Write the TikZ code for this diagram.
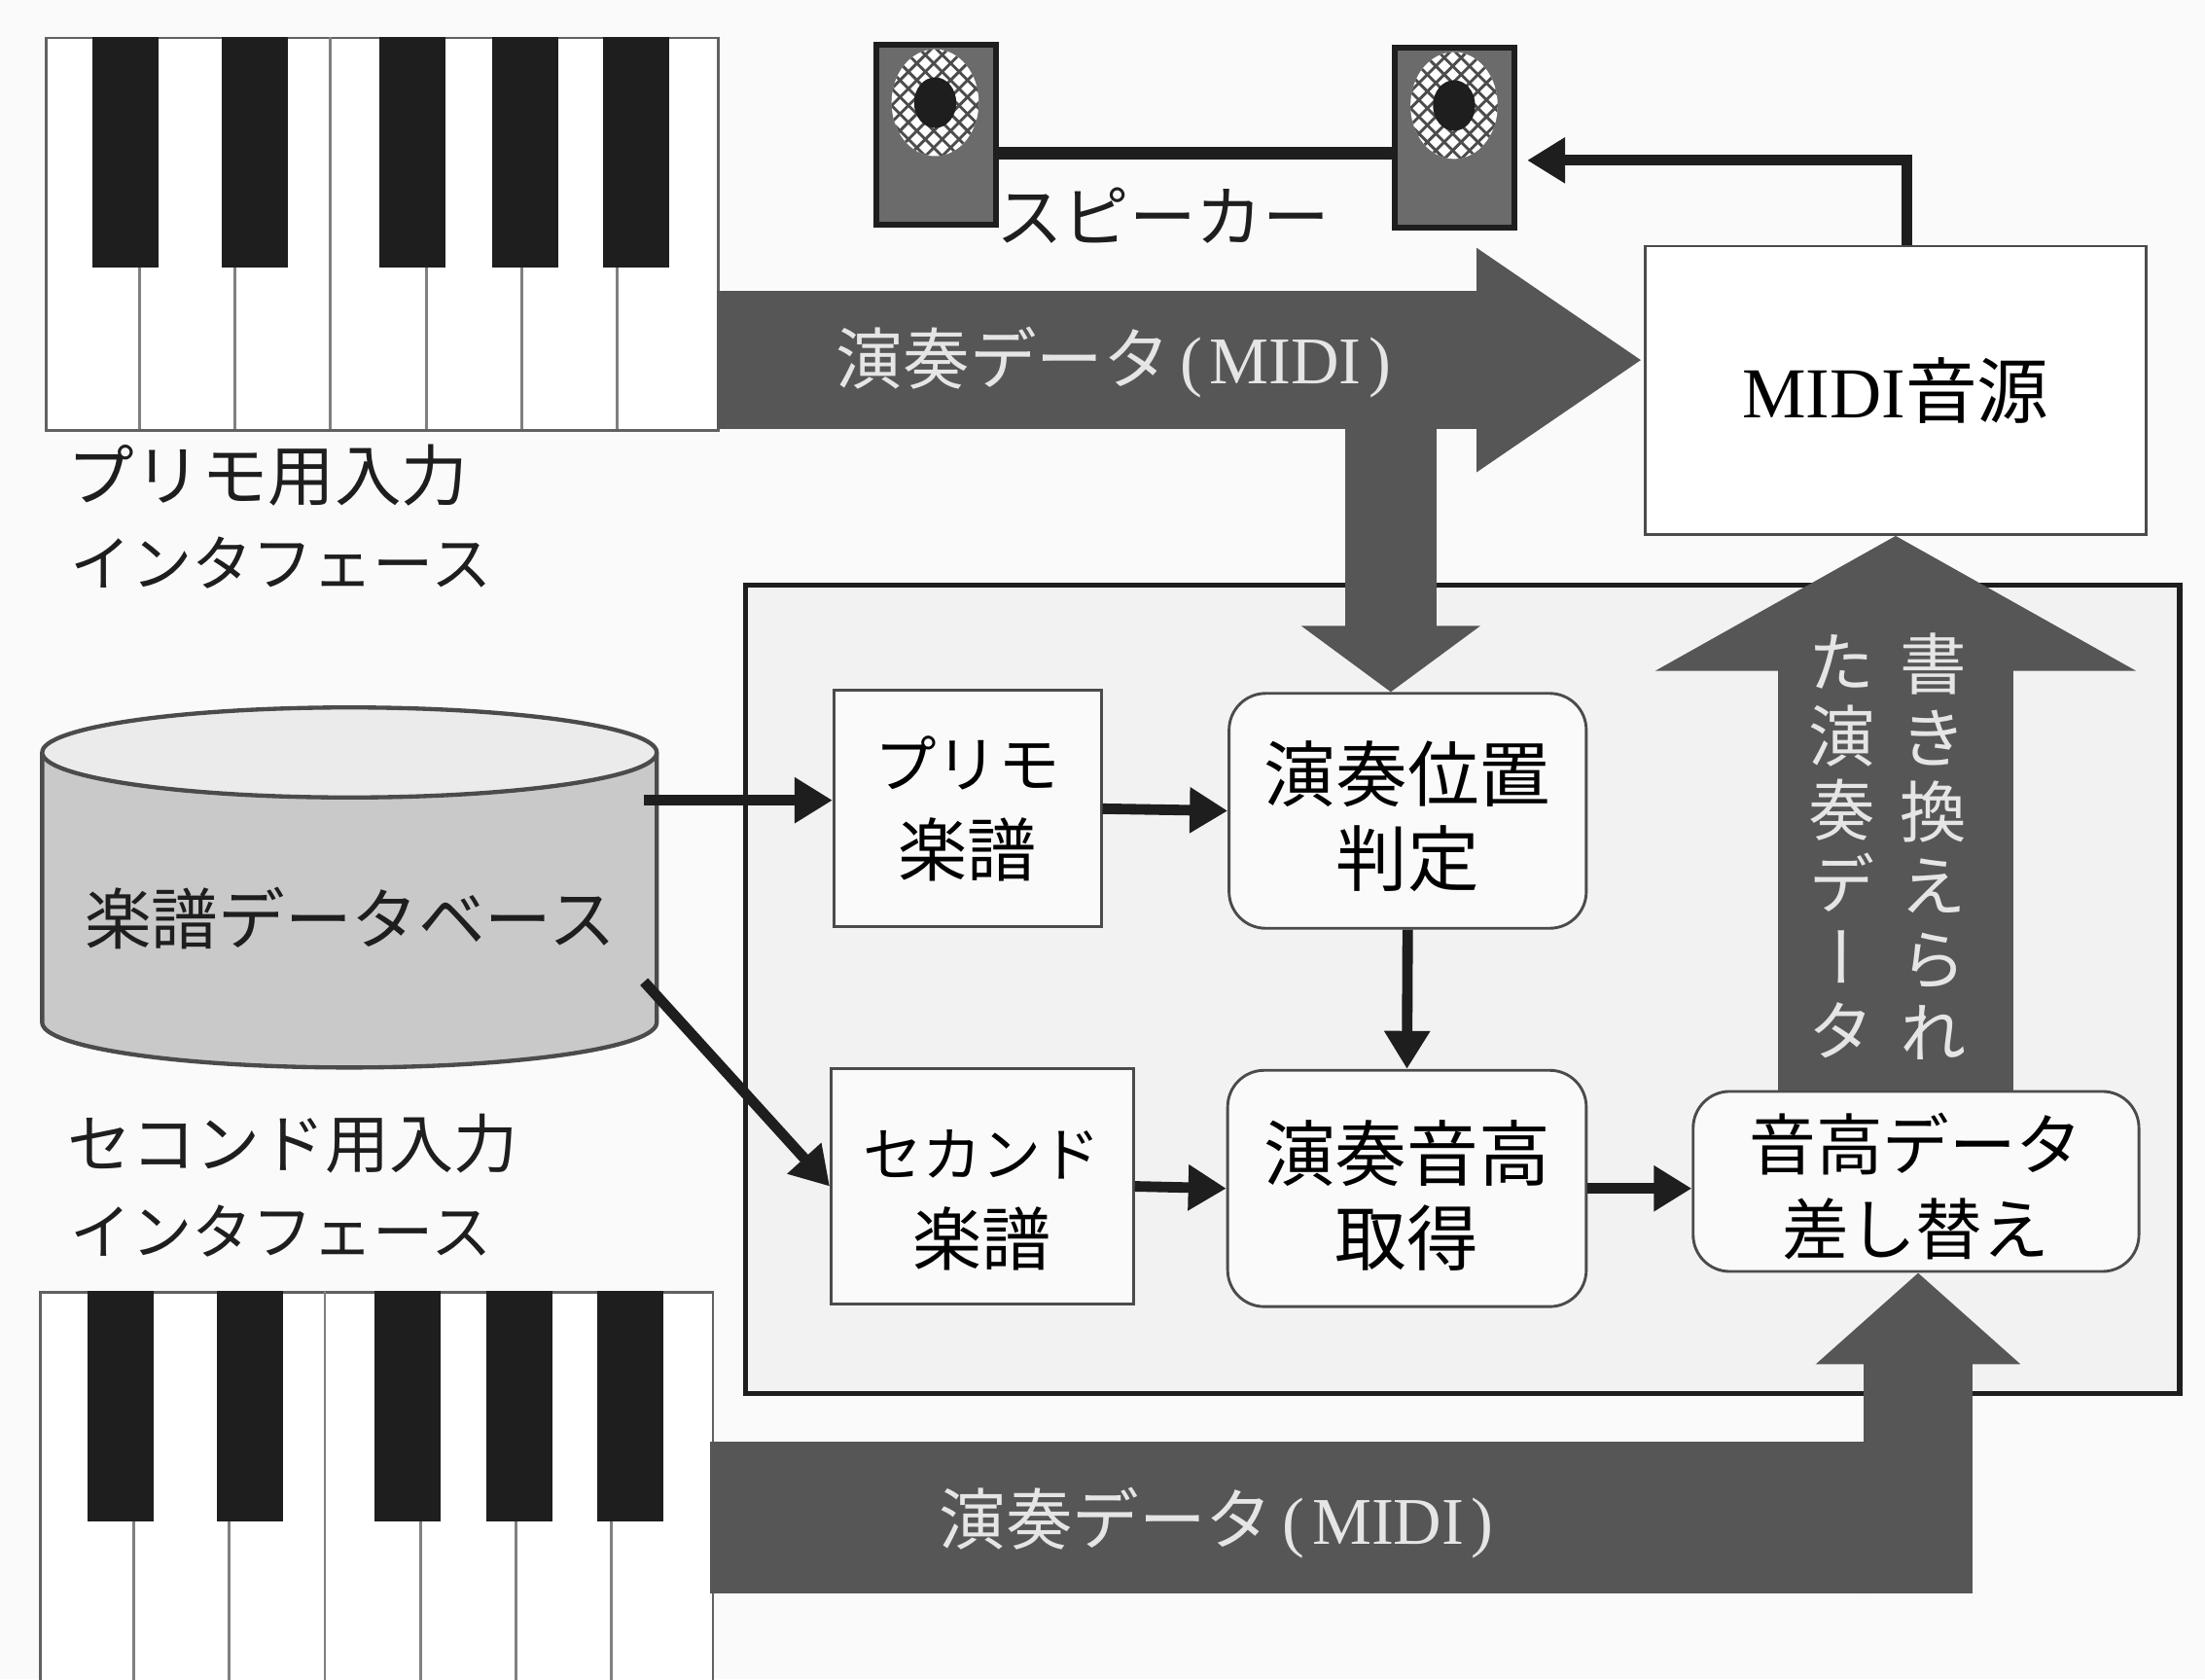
\documentclass[tikz,border=0pt]{standalone}
\usepackage{fontspec}
\setmainfont{Noto Sans CJK JP}
\newfontfamily\lat{Liberation Serif}
\newfontfamily\cjkv[RawFeature=+vert]{Noto Sans CJK JP}
\usetikzlibrary{arrows.meta,calc}
\def\uu{0.02cm}
\newcommand{\fsz}[1]{\fontsize{#1}{\the\dimexpr#1pt*118/100\relax}\selectfont}
\definecolor{bigarrow}{HTML}{565656}
\definecolor{ink}{HTML}{1E1E1E}
\colorlet{panelbg}{black!5}
\tikzset{
  sqbox/.style={draw=ink!80,line width=2*\uu,fill=white!60!panelbg,inner sep=0pt,align=center},
  rdbox/.style={sqbox,rounded corners=26*\uu},
  thin arrow/.style={draw=ink,line width=7.5*\uu,-{Triangle[length=27*\uu,width=31*\uu]}},
  fat/.style={draw=bigarrow,line width=#1*\uu},
  lighttext/.style={text=white!90!black,inner sep=0pt},
  darktext/.style={text=ink,inner sep=0pt,align=center},
  pics/keyboard/.style={code={
    \node[draw=ink!70,line width=2*\uu,fill=white,minimum width=478*\uu,minimum height=279*\uu,inner sep=0pt,anchor=north west] (-frame) at (0,0) {};
    \foreach \lx in {67,135,203,271,339,407}{\draw[gray,line width=2*\uu] (\lx,164) -- (\lx,279);}
    \draw[gray,line width=2*\uu] (203,0) -- (203,164);
    \foreach \bx in {34,126,238,318,397}{\fill[ink] (\bx,0) rectangle ++(47,164);}
  }},
  pics/speaker/.style={code={
    \node[draw=ink,line width=4*\uu,fill=black!58,minimum width=85*\uu,minimum height=128*\uu,inner sep=0pt,anchor=north west] (-body) at (0,0) {};
    \begin{scope}
      \clip (44,43) ellipse [x radius=31,y radius=38];
      \fill[white] (0,0) rectangle (89,90);
      \foreach \d in {-80,-68,...,120}{
        \draw[black!70,line width=2*\uu] (\d,0) -- ++(90,90);
        \draw[black!70,line width=2*\uu] (\d,90) -- ++(90,-90);
      }
    \end{scope}
    \fill[ink] (44,43) ellipse [x radius=15,y radius=18];
  }}
}
\begin{document}
\begin{tikzpicture}[x=\uu,y=-\uu]
\useasboundingbox (0,0) rectangle (1568,1194);
\fill[black!2] (0,0) rectangle (1568,1194);
% panel
\draw[draw=ink,line width=3.5*\uu,fill=panelbg] (530,416) rectangle (1550,991);
% keyboards
\pic (kbA) at (32,26) {keyboard};
\pic (kbB) at (28,918) {keyboard};
% speakers
\pic (spL) at (621,30) {speaker};
\pic (spR) at (990,32) {speaker};
% database
\draw[draw=ink!80,line width=3*\uu,fill=black!21] (30,535) -- (30,727) arc [start angle=180,end angle=0,x radius=218.5,y radius=32] -- (467,535);
\draw[draw=ink!80,line width=3*\uu,fill=black!8] (248.5,535) ellipse [x radius=218.5,y radius=32];
\node[darktext] (db) at (249,653) {\fsz{27}楽譜データベース};
\coordinate (dbA) at (458,569);
\coordinate (dbB) at (458,698);
% boxes
\node[sqbox,fill=white,minimum width=356*\uu,minimum height=205*\uu] (midi) at (1348,277.5) {\fsz{29}{\lat MIDI}音源};
\node[sqbox,minimum width=190*\uu,minimum height=168*\uu] (primo) at (688,575) {\fsz{25}プリモ\\[10pt]\fsz{28}楽譜};
\node[sqbox,minimum width=215*\uu,minimum height=167*\uu] (second) at (698.5,843.5) {\rule{0pt}{30pt}\fsz{24}セカンド\\[10pt]\fsz{28}楽譜};
\node[rdbox,font=\fsz{29},minimum width=254*\uu,minimum height=167*\uu] (pos) at (1001,576.5) {\rule{0pt}{29pt}演奏位置\\[0pt]判定};
\node[rdbox,font=\fsz{29},minimum width=255*\uu,minimum height=168*\uu] (pitch) at (1000.5,845) {\rule{0pt}{30pt}演奏音高\\[0pt]取得};
\node[rdbox,font=\fsz{27},minimum width=317*\uu,minimum height=128*\uu] (swap) at (1362.5,840) {\rule{0pt}{27pt}音高データ\\[2pt]差し替え};
% big arrows
\coordinate (a1s) at (510,256);
\coordinate (a1e) at (1168,256);
\coordinate (a2s) at (989,290);
\coordinate (a2e) at (989,492);
\coordinate (a3s) at (505,1079);
\coordinate (a3m) at (1403,1079);
\coordinate (a4s) at (1364,1133);
\draw[fat=98,-{Triangle[length=118*\uu,width=151*\uu]}] (a1s) -- (a1e);
\draw[fat=65,-{Triangle[length=47*\uu,width=125*\uu]}] (a2s) -- (a2e);
\draw[fat=168,-{Triangle[length=96*\uu,width=338*\uu]}] (midi.south |- swap.north) -- (midi.south);
\draw[fat=108] (a3s) -- (a3m);
\draw[fat=78,-{Triangle[length=65*\uu,width=142*\uu]}] (a4s) -- (swap.south -| a4s);
% arrow labels
\node[lighttext] (t1) at (792,258) {\fsz{27}演奏データ\hspace{4pt}{\lat (\hspace{3pt}MIDI\hspace{3pt})}};
\node[lighttext] (t2) at (865,1083) {\fsz{27}演奏データ\hspace{4pt}{\lat (\hspace{3pt}MIDI\hspace{3pt})}};
\node[lighttext,align=center,font=\fsz{27}\cjkv] (t3) at (1375,602) {書\\[-2pt]き\\[-2pt]換\\[-2pt]え\\[-2pt]ら\\[-2pt]れ};
\node[lighttext,align=center,font=\fsz{27}\cjkv] (t4) at (1310,602) {た\\[-2pt]演\\[-2pt]奏\\[-2pt]デ\\[-2pt]ー\\[-2pt]タ};
% thin connectors
\draw[thin arrow] (dbA) -- (primo.west |- dbA);
\draw[thin arrow] (primo.east) -- (pos.west);
\draw[thin arrow] (dbB) -- (second.west);
\draw[thin arrow] (pos.south) -- (pitch.north);
\draw[thin arrow] (second.east) -- (pitch.west);
\draw[thin arrow] (pitch.east) -- (pitch.east -| swap.west);
\draw[draw=ink,line width=9*\uu] ($(spL-body.east)+(0,13)$) -- ($(spR-body.west)+(0,11)$);
\draw[thin arrow] ($(midi.north)+(8,0)$) |- ($(spR-body.east)+(7,16)$);
% labels
\node[darktext,anchor=west] (spk) at (708,153) {\fsz{27}スピーカー};
\node[darktext,anchor=west] (l1) at (48,338) {\fsz{27}プリモ用入力};
\node[darktext,anchor=west] (l2) at (50,400) {\fsz{24.5}インタフェース};
\node[darktext,anchor=west] (l3) at (48,813) {\fsz{26}セコンド用入力};
\node[darktext,anchor=west] (l4) at (50,875) {\fsz{24.5}インタフェース};
\end{tikzpicture}
\end{document}
